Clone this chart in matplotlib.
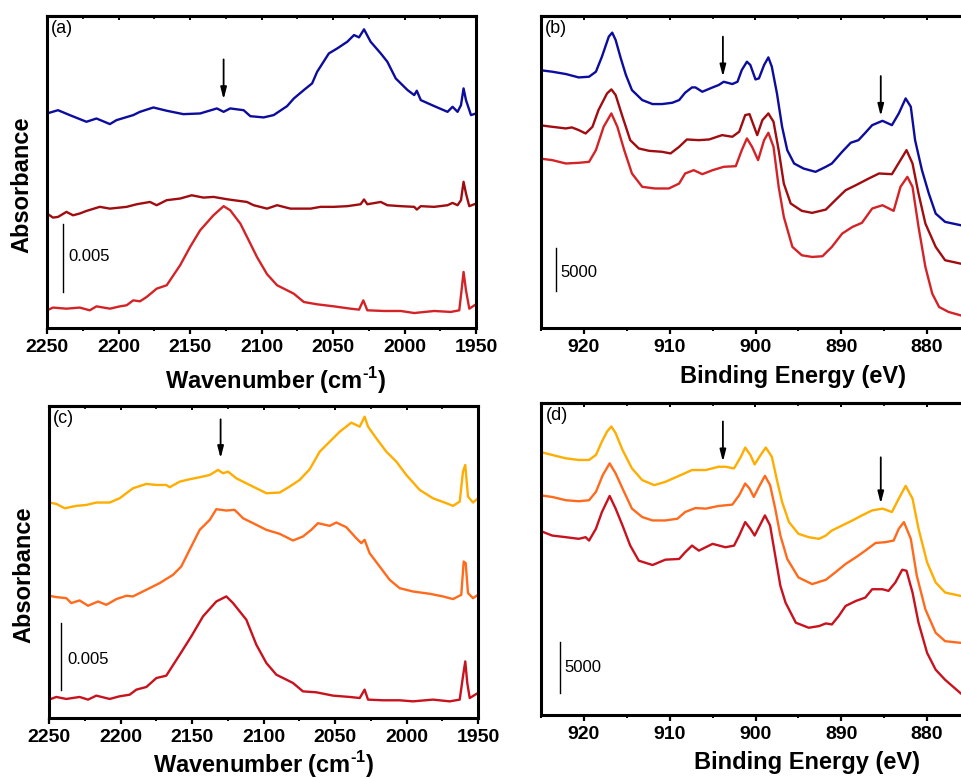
import matplotlib
matplotlib.use('Agg')
import matplotlib.pyplot as plt
from matplotlib.ticker import MultipleLocator

plt.rcParams['font.family'] = ['Liberation Sans', 'DejaVu Sans']
plt.rcParams['mathtext.fontset'] = 'custom'
plt.rcParams['mathtext.rm'] = 'Liberation Sans'
plt.rcParams['mathtext.bf'] = 'Liberation Sans:bold'

# ---------------- Panel (a): IR spectra (absorbance in mAbs, offset) ----------------
a_blue_wn = [2250, 2242.3, 2234.1, 2222.4, 2215.4, 2206.0, 2201.4, 2189.7, 2185.0, 2175.6, 2166.3, 2154.6,
             2142.9, 2131.2, 2126.5, 2121.9, 2112.5, 2107.8, 2098.5, 2091.5, 2082.1, 2077.4, 2070.4, 2064.6,
             2061.1, 2052.9, 2047.0, 2040.0, 2035.3, 2031.8, 2028.3, 2023.7, 2016.6, 2012.0, 2006.1, 1997.9,
             1993.2, 1991.4, 1988.6, 1979.2, 1969.9, 1966.4, 1962.9, 1960.5, 1958.7, 1957.0, 1953.5, 1950.0]
a_blue_ab = [15.76, 16.00, 15.64, 15.15, 15.39, 14.98, 15.27, 15.64, 15.88, 16.20, 15.96, 15.71,
             15.76, 16.13, 15.88, 16.13, 16.00, 15.56, 15.47, 15.64, 16.30, 16.86, 17.48, 17.97,
             18.82, 20.17, 20.54, 21.03, 21.52, 21.35, 21.94, 21.03, 20.17, 19.56, 18.33, 17.48,
             17.11, 17.43, 16.74, 16.30, 15.88, 16.25, 15.88, 16.37, 17.60, 16.74, 15.64, 15.76]

a_dred_wn = [2250, 2245.8, 2242.3, 2236.4, 2231.8, 2227.1, 2222.4, 2213.1, 2206.0, 2194.3, 2187.3, 2178.0,
             2173.3, 2166.3, 2156.9, 2148.8, 2140.6, 2133.6, 2124.2, 2119.5, 2110.2, 2105.5, 2096.1, 2089.1,
             2079.8, 2065.7, 2058.7, 2049.4, 2040.0, 2030.7, 2028.3, 2026.0, 2016.6, 2012.0, 2002.6, 1993.2,
             1991.4, 1988.6, 1979.2, 1969.9, 1966.4, 1962.9, 1960.5, 1958.7, 1957.0, 1954.7, 1950.0]
a_dred_ab = [8.41, 8.11, 8.16, 8.53, 8.28, 8.41, 8.60, 8.90, 8.77, 8.90, 9.09, 9.26,
             9.02, 9.39, 9.51, 9.75, 9.58, 9.63, 9.46, 9.39, 9.26, 9.02, 8.77, 9.02,
             8.77, 8.77, 8.90, 8.90, 8.95, 9.09, 9.44, 9.09, 9.26, 9.02, 8.95, 8.90,
             8.70, 8.95, 8.90, 9.02, 9.19, 9.02, 9.39, 10.74, 9.88, 8.95, 9.14]

a_red_wn = [2250, 2245.8, 2236.4, 2227.1, 2220.1, 2215.4, 2206.0, 2199.0, 2194.3, 2189.7, 2185.0, 2180.3,
            2173.3, 2166.3, 2156.9, 2149.9, 2142.9, 2133.6, 2126.5, 2121.9, 2114.8, 2107.8, 2103.2, 2096.1,
            2089.1, 2082.1, 2077.4, 2070.4, 2061.1, 2049.4, 2037.7, 2031.8, 2028.8, 2026.0, 2014.3, 2002.6,
            1993.2, 1979.2, 1967.6, 1961.7, 1960.1, 1958.7, 1957.0, 1954.7, 1950.0]
a_red_ab = [1.30, 1.50, 1.42, 1.50, 1.30, 1.59, 1.42, 1.59, 1.67, 2.03, 1.96, 2.28,
            2.89, 3.14, 4.61, 5.96, 7.18, 8.28, 8.95, 8.65, 7.67, 6.20, 5.22, 3.95,
            3.14, 2.77, 2.52, 1.91, 1.74, 1.59, 1.42, 1.35, 2.03, 1.30, 1.25, 1.25,
            1.10, 1.25, 1.18, 1.30, 2.77, 4.12, 2.77, 1.42, 1.74]

# ---------------- Panel (b): XPS spectra (kcounts, offset) ----------------
b_blue_be = [925.2, 923.7, 922.1, 920.6, 919.4, 918.6, 917.9, 917.1, 916.7, 916.3, 915.7, 915.1, 914.4,
             913.2, 912.0, 910.9, 909.7, 908.9, 908.2, 907.4, 907.0, 906.2, 905.0, 904.3, 903.7, 902.7,
             902.1, 901.6, 901.0, 900.6, 900.0, 899.6, 899.0, 898.5, 898.1, 897.5, 896.9, 896.3, 895.5,
             894.4, 893.0, 891.8, 891.1, 889.9, 888.9, 888.0, 887.2, 886.4, 885.2, 884.1, 883.3, 882.5,
             881.9, 881.4, 880.6, 879.8, 879.0, 877.9, 876.1]
b_blue_int = [29.73, 29.54, 29.27, 28.88, 28.96, 29.54, 31.27, 33.58, 34.04, 33.19, 31.08, 29.15, 27.42,
              26.27, 25.81, 25.81, 25.96, 26.27, 27.12, 27.73, 27.73, 27.23, 27.73, 28.00, 28.38, 28.12,
              28.38, 29.73, 30.69, 30.31, 28.65, 28.77, 30.31, 31.19, 30.12, 27.04, 23.19, 20.50, 18.96,
              18.38, 18.00, 18.58, 18.96, 20.31, 21.35, 21.65, 22.50, 23.38, 23.88, 23.38, 24.73, 26.46,
              25.50, 21.65, 18.19, 15.50, 13.19, 12.23, 11.85]

b_dred_be = [925.2, 923.7, 922.1, 921.4, 920.6, 919.8, 919.0, 918.3, 917.3, 916.8, 916.3, 915.5, 914.6,
             913.6, 912.4, 910.9, 909.9, 908.9, 908.0, 906.6, 905.4, 903.9, 902.7, 901.9, 901.2, 900.7,
             899.8, 899.2, 898.5, 897.9, 897.3, 896.7, 895.9, 894.6, 893.4, 891.8, 890.7, 889.5, 888.3,
             886.8, 885.6, 884.1, 883.1, 882.4, 881.7, 881.0, 880.2, 879.0, 877.9, 876.1]
b_dred_int = [23.38, 23.19, 23.00, 23.12, 22.81, 22.42, 23.19, 25.12, 27.04, 27.50, 26.85, 24.35, 21.65,
              20.69, 20.42, 20.31, 20.12, 20.88, 21.73, 21.65, 21.73, 22.23, 22.04, 22.62, 24.54, 24.65,
              22.23, 23.96, 24.73, 23.77, 20.50, 16.65, 14.35, 13.50, 13.27, 13.65, 14.73, 15.88, 16.46,
              17.23, 17.81, 17.73, 19.35, 20.50, 18.96, 15.50, 12.04, 9.35, 7.81, 7.42]

b_red_be = [925.2, 923.7, 922.1, 920.6, 919.4, 918.6, 917.7, 916.8, 916.1, 915.3, 914.4, 913.2, 911.7,
            910.1, 908.9, 908.2, 907.2, 906.2, 905.0, 903.7, 902.3, 901.6, 901.0, 900.4, 899.7, 899.0,
            898.5, 897.9, 897.3, 896.7, 895.7, 894.6, 893.4, 892.2, 891.1, 889.9, 888.7, 887.6, 886.4,
            885.2, 883.9, 883.1, 882.3, 881.7, 881.0, 880.2, 879.4, 878.6, 877.5, 876.1]
b_red_int = [19.54, 19.35, 18.96, 19.04, 19.15, 20.50, 23.19, 24.73, 23.19, 20.50, 17.81, 16.27, 16.08,
             16.08, 16.65, 17.81, 18.19, 17.73, 18.19, 18.58, 18.65, 20.50, 21.85, 20.88, 19.35, 21.65,
             22.50, 20.88, 16.27, 12.81, 9.35, 8.38, 8.19, 8.27, 9.35, 10.88, 11.65, 12.12, 13.77,
             14.15, 13.50, 16.27, 17.42, 16.27, 11.65, 7.04, 3.96, 2.42, 1.85, 1.46]

# ---------------- Panel (c): IR spectra ----------------
c_yel_wn = [2250, 2244.9, 2239.0, 2230.9, 2223.9, 2216.9, 2207.6, 2200.6, 2191.3, 2181.9, 2174.9, 2168.0,
            2165.6, 2158.6, 2151.6, 2144.6, 2137.6, 2131.8, 2128.3, 2124.8, 2119.0, 2109.7, 2102.7, 2098.0,
            2088.7, 2081.7, 2074.7, 2067.7, 2060.7, 2053.7, 2046.7, 2038.6, 2032.7, 2029.3, 2026.9, 2021.1,
            2014.1, 2007.1, 2000.1, 1990.8, 1981.5, 1972.1, 1967.5, 1962.8, 1960.5, 1958.9, 1957.0, 1953.5,
            1950.0]
c_yel_ab = [16.18, 16.08, 15.75, 15.93, 16.00, 16.18, 16.18, 16.50, 17.25, 17.58, 17.50, 17.50,
            17.33, 17.75, 17.93, 18.08, 18.25, 18.63, 18.38, 18.50, 18.00, 17.50, 17.13, 16.88,
            16.93, 17.38, 17.88, 18.68, 20.00, 20.75, 21.50, 22.18, 21.88, 22.63, 21.88, 21.00,
            20.00, 19.25, 18.25, 17.13, 16.50, 16.13, 15.93, 16.25, 18.50, 19.00, 16.63, 16.18,
            16.50]

c_org_wn = [2250, 2244.9, 2237.9, 2234.4, 2228.6, 2222.7, 2215.7, 2209.9, 2202.9, 2195.9, 2191.3, 2181.9,
            2172.6, 2163.3, 2157.5, 2150.5, 2144.6, 2137.6, 2133.0, 2126.0, 2120.2, 2114.3, 2107.3, 2098.0,
            2088.7, 2079.4, 2072.4, 2066.6, 2061.9, 2053.7, 2049.1, 2042.1, 2035.1, 2031.6, 2029.3, 2025.8,
            2018.8, 2011.8, 2004.8, 1995.5, 1983.8, 1974.5, 1967.5, 1961.7, 1960.0, 1958.6, 1957.0, 1953.5,
            1950.0]
c_org_ab = [9.18, 9.08, 9.00, 8.63, 8.83, 8.43, 8.75, 8.50, 8.93, 9.18, 9.13, 9.63,
            10.13, 10.75, 11.38, 12.88, 14.13, 14.88, 15.68, 15.58, 15.63, 15.00, 14.63, 14.13,
            13.83, 13.33, 13.63, 14.13, 14.63, 14.43, 14.68, 14.33, 13.50, 13.13, 13.38, 12.38,
            11.38, 10.38, 9.75, 9.50, 9.33, 9.13, 8.93, 9.25, 11.75, 11.63, 9.38, 9.00,
            9.25]

c_dred_wn = [2250, 2244.9, 2237.9, 2228.6, 2222.7, 2216.9, 2207.6, 2200.6, 2193.6, 2188.9, 2181.9, 2174.9,
             2168.0, 2158.6, 2150.5, 2142.3, 2133.0, 2126.0, 2121.3, 2112.0, 2105.0, 2098.0, 2091.0, 2084.0,
             2079.4, 2072.4, 2063.1, 2051.4, 2039.7, 2032.7, 2029.3, 2026.9, 2016.4, 2004.8, 1995.5, 1981.5,
             1969.8, 1962.8, 1960.5, 1958.9, 1957.5, 1955.8, 1950.0]
c_dred_ab = [1.38, 1.58, 1.43, 1.58, 1.38, 1.68, 1.43, 1.63, 1.75, 2.13, 2.33, 3.00,
             3.18, 4.75, 6.13, 7.63, 8.75, 9.13, 8.63, 7.38, 5.50, 4.13, 3.25, 2.88,
             2.63, 2.00, 1.93, 1.68, 1.58, 1.50, 2.13, 1.38, 1.33, 1.33, 1.25, 1.38,
             1.25, 1.38, 3.13, 4.25, 2.63, 1.50, 1.88]

# ---------------- Panel (d): XPS spectra ----------------
d_yel_be = [925.2, 923.7, 922.1, 920.6, 919.4, 918.6, 917.9, 917.3, 916.8, 916.3, 915.5, 914.4, 913.2,
            911.8, 910.5, 908.9, 907.4, 905.8, 904.3, 903.5, 902.5, 901.7, 901.2, 900.6, 900.1, 899.4,
            898.8, 898.1, 897.5, 896.9, 896.1, 895.0, 893.8, 892.6, 891.8, 891.1, 889.9, 888.7, 887.6,
            886.4, 885.2, 884.1, 883.3, 882.5, 881.7, 881.0, 880.0, 879.0, 877.9, 876.1]
d_yel_int = [25.65, 25.33, 25.00, 24.84, 24.84, 25.33, 26.63, 27.61, 28.10, 27.45, 25.82, 24.02, 22.88,
             22.39, 22.71, 23.30, 23.86, 23.86, 24.18, 24.18, 24.02, 25.16, 26.05, 25.33, 24.41, 25.33,
             26.05, 25.16, 22.88, 20.75, 18.79, 17.65, 17.32, 17.16, 17.48, 17.97, 18.46, 18.95, 19.44,
             19.93, 20.10, 19.77, 21.08, 22.32, 21.08, 18.14, 14.87, 12.91, 11.93, 11.60]

d_org_be = [925.2, 923.7, 922.1, 920.6, 919.4, 918.6, 917.8, 917.0, 916.3, 915.5, 914.4, 913.2, 912.0,
            910.5, 909.1, 908.2, 907.0, 905.8, 904.3, 902.7, 901.9, 901.2, 900.7, 900.2, 899.6, 898.9,
            898.3, 897.7, 897.1, 896.3, 895.0, 893.4, 891.8, 890.7, 889.5, 888.3, 887.2, 886.0, 884.9,
            883.9, 883.3, 882.7, 881.9, 881.2, 880.2, 879.0, 877.9, 876.1]
d_org_int = [21.41, 21.24, 20.92, 20.82, 20.92, 21.73, 23.37, 24.51, 23.53, 22.06, 20.10, 19.28, 18.95,
             18.95, 19.12, 19.77, 20.16, 20.10, 20.36, 20.49, 21.41, 22.55, 22.06, 21.24, 22.22, 23.30,
             22.39, 20.10, 17.48, 15.20, 13.40, 12.75, 13.17, 13.89, 14.71, 15.36, 16.01, 16.76, 16.83,
             16.99, 18.14, 18.79, 17.16, 13.56, 10.29, 8.01, 7.19, 7.03]

d_dred_be = [925.2, 923.7, 922.1, 920.6, 919.8, 919.4, 918.6, 917.9, 917.0, 916.3, 915.5, 914.6, 913.6,
             912.0, 910.5, 908.9, 908.2, 907.4, 906.6, 905.0, 903.5, 902.5, 901.9, 901.2, 900.6, 900.1,
             899.5, 898.9, 898.3, 897.7, 897.1, 896.5, 895.3, 893.8, 892.6, 891.8, 891.1, 890.3, 889.5,
             888.3, 887.2, 886.4, 885.2, 884.5, 883.7, 882.9, 882.4, 881.7, 881.0, 880.0, 879.0, 877.9,
             876.1]
d_dred_int = [17.97, 17.48, 17.32, 17.16, 17.32, 16.99, 18.14, 19.77, 21.34, 20.10, 18.46, 16.50, 15.03,
              14.61, 15.13, 15.20, 15.85, 16.50, 16.01, 16.67, 16.34, 16.50, 17.48, 18.79, 18.14, 17.48,
              18.46, 19.44, 18.46, 15.52, 12.58, 10.95, 8.99, 8.50, 8.66, 8.92, 8.82, 9.64, 10.62,
              11.11, 11.44, 12.25, 12.25, 12.09, 12.91, 14.15, 14.05, 11.93, 8.99, 6.05, 4.41, 3.43,
              2.12]

# tick values
ir_ticks = [2250, 2200, 2150, 2100, 2050, 2000, 1950]
xps_ticks = [920, 910, 900, 890, 880]

BLUE = '#0c0c9e'
DRED = '#a00c10'
RED = '#d42327'
YEL = '#ffad00'
ORG = '#ff6a1c'
DRED2 = '#c8121e'

fig = plt.figure(figsize=(9.62, 7.79), dpi=100)
W, H = 962.0, 779.0
axa = fig.add_axes([47 / W, (H - 328) / H, 429 / W, 312 / H])
axb = fig.add_axes([541 / W, (H - 328) / H, 429 / W, 312 / H])
axc = fig.add_axes([49 / W, (H - 718) / H, 429 / W, 312 / H])
axd = fig.add_axes([541 / W, (H - 715) / H, 429 / W, 312 / H])

LW = 1.7


def style(ax, xlim, ylim, ticks, minor, xlabel, lx, ly, ylabel=None, tag='', tagx=0.008):
    ax.set_xlim(*xlim)
    ax.set_ylim(*ylim)
    ax.set_yticks([])
    ax.set_xticks(ticks)
    ax.xaxis.set_minor_locator(MultipleLocator(minor))
    for s in ax.spines.values():
        s.set_linewidth(2.2)
    ax.tick_params(axis='x', which='major', direction='out', length=4, width=1.6,
                   labelsize=14, pad=4, top=False)
    ax.tick_params(axis='x', which='minor', direction='out', length=2.5, width=1.4, top=False)
    for lab in ax.get_xticklabels():
        lab.set_fontweight('bold')
    sec = ax.secondary_xaxis('top')
    sec.set_xticks(ticks)
    sec.xaxis.set_minor_locator(MultipleLocator(minor))
    sec.tick_params(axis='x', which='major', direction='in', length=3, width=1.4, labeltop=False)
    sec.tick_params(axis='x', which='minor', direction='in', length=2, width=1.2)
    sec.spines['top'].set_linewidth(2.2)
    ax.set_xlabel(xlabel, fontsize=17, fontweight='bold')
    ax.xaxis.set_label_coords(lx, ly)
    ax.xaxis.label.set_verticalalignment('center')
    if ylabel:
        ax.set_ylabel(ylabel, fontsize=17, fontweight='bold')
        ax.yaxis.set_label_coords(-0.058, 0.458)
        ax.yaxis.label.set_verticalalignment('center')
    ax.text(tagx, 0.988, tag, transform=ax.transAxes, ha='left', va='top', fontsize=13)


def arrow(ax, x, y0, y1):
    ax.annotate('', xy=(x, y1), xytext=(x, y0),
                arrowprops=dict(arrowstyle='-|>,head_length=0.7,head_width=0.18',
                                color='black', lw=1.3, shrinkA=0, shrinkB=0))


wn_label = 'Wavenumber (cm$^{\\mathbf{\u2010}\\mathbf{1}}$)'

# (a)
axa.plot(a_blue_wn, a_blue_ab, color=BLUE, lw=LW)
axa.plot(a_dred_wn, a_dred_ab, color=DRED, lw=LW)
axa.plot(a_red_wn, a_red_ab, color=RED, lw=LW)
style(axa, (2250, 1950), (0, 22.92), ir_ticks, 25, wn_label, 0.534, -0.167, 'Absorbance', '(a)')
axa.plot([2238.8, 2238.8], [2.65, 7.62], color='black', lw=1.0)
axa.text(2235.3, 5.22, '0.005', fontsize=12, va='center', ha='left')
arrow(axa, 2126.5, 19.73, 16.79)

# (b)
axb.plot(b_blue_be, b_blue_int, color=BLUE, lw=LW)
axb.plot(b_dred_be, b_dred_int, color=DRED, lw=LW)
axb.plot(b_red_be, b_red_int, color=RED, lw=LW)
style(axb, (925, 875), (0, 35.96), xps_ticks, 5, 'Binding Energy (eV)', 0.587, -0.154, None, '(b)', 0.01)
axb.plot([923.2, 923.2], [4.27, 9.27], color='black', lw=1.0)
axb.text(922.7, 6.35, '5000', fontsize=12, va='center', ha='left')
arrow(axb, 903.8, 33.58, 28.96)
arrow(axb, 885.4, 29.04, 24.42)

# (c)
axc.plot(c_yel_wn, c_yel_ab, color=YEL, lw=LW)
axc.plot(c_org_wn, c_org_ab, color=ORG, lw=LW)
axc.plot(c_dred_wn, c_dred_ab, color=DRED2, lw=LW)
style(axc, (2250, 1950), (0, 23.43), ir_ticks, 25, wn_label, 0.50, -0.150, 'Absorbance', '(c)', 0.01)
axc.plot([2241.4, 2241.4], [2.13, 7.13], color='black', lw=1.0)
axc.text(2237.2, 4.43, '0.005', fontsize=12, va='center', ha='left')
arrow(axc, 2130.0, 22.43, 19.5)

# (d)
axd.plot(d_yel_be, d_yel_int, color=YEL, lw=LW)
axd.plot(d_org_be, d_org_int, color=ORG, lw=LW)
axd.plot(d_dred_be, d_dred_int, color=DRED2, lw=LW)
style(axd, (925, 875), (0, 30.39), xps_ticks, 5, 'Binding Energy (eV)', 0.62, -0.151, None, '(d)', 0.012)
axd.plot([922.8, 922.8], [2.12, 7.12], color='black', lw=1.0)
axd.text(922.3, 4.67, '5000', fontsize=12, va='center', ha='left')
arrow(axd, 903.8, 28.59, 24.67)
arrow(axd, 885.4, 25.10, 20.59)

fig.savefig('out.png', dpi=100)
